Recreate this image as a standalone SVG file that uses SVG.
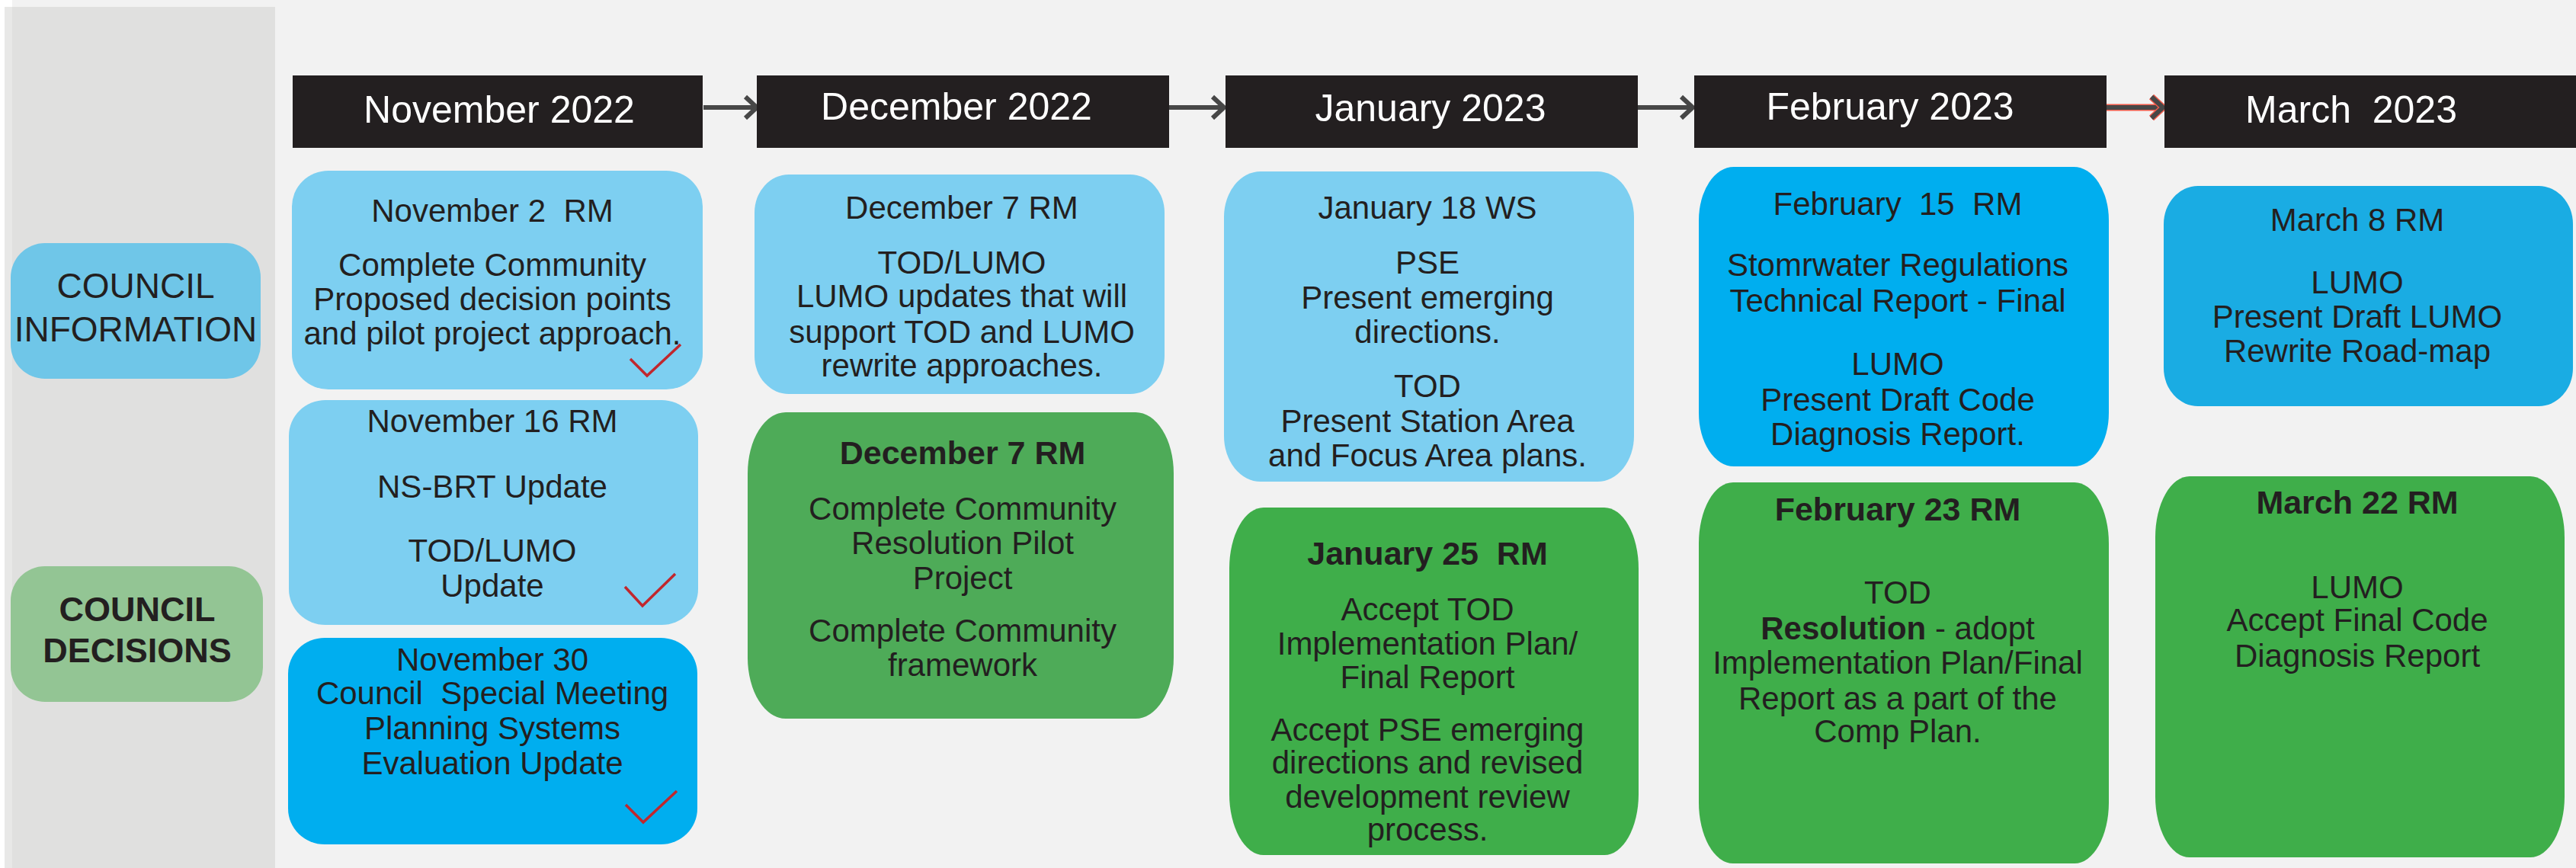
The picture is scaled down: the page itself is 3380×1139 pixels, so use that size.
<svg xmlns="http://www.w3.org/2000/svg" width="3380" height="1139" viewBox="0 0 3380 1139">
<style>
text{font-family:"Liberation Sans",Arial,sans-serif;fill:#231f20;text-anchor:middle;white-space:pre}
.b{font-size:42px}
.t{font-size:43px;font-weight:bold}
.h{font-size:50px;fill:#ffffff}
.hdr{fill:#231f20}
.lb{fill:#7dcff1}
.bb{fill:#00aeef}
.gr{fill:#3fae4a}
.chk{fill:none;stroke:#c1272d;stroke-width:3.5;stroke-linejoin:miter}
.arr{fill:none;stroke:#474747;stroke-width:6}
</style>
<defs>
<marker id="chev" viewBox="0 0 20 32" refX="17" refY="16" markerWidth="20" markerHeight="32" markerUnits="userSpaceOnUse" orient="auto" overflow="visible">
<path d="M2,2 L17,16 L2,30" fill="none" stroke="#474747" stroke-width="6"/>
</marker>
<marker id="chevr" viewBox="0 0 20 32" refX="17" refY="16" markerWidth="20" markerHeight="32" markerUnits="userSpaceOnUse" orient="auto" overflow="visible">
<path d="M2,2 L17,16 L2,30" fill="none" stroke="#f15a4a" stroke-width="9"/>
<path d="M2,2 L17,16 L2,30" fill="none" stroke="#474747" stroke-width="6"/>
</marker>
</defs>
<rect x="0" y="0" width="3380" height="1139" fill="#f2f2f2"/>
<rect x="0" y="0" width="16" height="9" fill="#ffffff"/>
<rect x="0" y="0" width="6" height="1139" fill="#ffffff"/>
<rect x="6" y="9" width="10" height="1130" fill="#e8e8e7"/>
<rect x="16" y="9" width="345" height="1130" fill="#e0e0df"/>

<g id="council-information">
<rect x="14" y="319" width="328" height="178" rx="45" ry="45" fill="#6fc6e8"/>
<text x="178" y="391" style="font-size:46px">COUNCIL</text>
<text x="178" y="448" style="font-size:46px">INFORMATION</text>
</g>
<g id="council-decisions">
<rect x="14" y="743" width="331" height="178" rx="45" ry="45" fill="#93c594"/>
<text x="180" y="815" style="font-size:45px;font-weight:bold">COUNCIL</text>
<text x="180" y="869" style="font-size:45px;font-weight:bold">DECISIONS</text>
</g>

<g id="connectors">
<line class="arr" x1="923" y1="141" x2="993" y2="141" marker-end="url(#chev)"/>
<line class="arr" x1="1534" y1="141" x2="1606" y2="141" marker-end="url(#chev)"/>
<line class="arr" x1="2149" y1="141" x2="2221" y2="141" marker-end="url(#chev)"/>
<line x1="2764" y1="141" x2="2836" y2="141" stroke="#f15a4a" stroke-width="9"/>
<line class="arr" x1="2764" y1="141" x2="2838" y2="141" marker-end="url(#chevr)"/>
</g>

<g id="hdr-nov"><rect class="hdr" x="384" y="99" width="538" height="95"/><text class="h" x="655" y="161">November 2022</text></g>
<g id="hdr-dec"><rect class="hdr" x="993" y="99" width="541" height="95"/><text class="h" x="1255" y="157">December 2022</text></g>
<g id="hdr-jan"><rect class="hdr" x="1608" y="99" width="541" height="95"/><text class="h" x="1877" y="159">January 2023</text></g>
<g id="hdr-feb"><rect class="hdr" x="2223" y="99" width="541" height="95"/><text class="h" x="2480" y="157">February 2023</text></g>
<g id="hdr-mar"><rect class="hdr" x="2840" y="99" width="540" height="95"/><text class="h" x="3085" y="161">March  2023</text></g>

<g id="nov2">
<rect class="lb" x="383" y="224" width="539" height="287" rx="48" ry="47"/>
<text class="b" x="646" y="291">November 2  RM</text>
<text class="b" x="646" y="362">Complete Community</text>
<text class="b" x="646" y="407">Proposed decision points</text>
<text class="b" x="646" y="452">and pilot project approach.</text>
<polyline class="chk" points="827,471 849,493 893,452"/>
</g>
<g id="nov16">
<rect class="lb" x="379" y="525" width="537" height="295" rx="48" ry="47"/>
<text class="b" x="646" y="567">November 16 RM</text>
<text class="b" x="646" y="653">NS-BRT Update</text>
<text class="b" x="646" y="737">TOD/LUMO</text>
<text class="b" x="646" y="783">Update</text>
<polyline class="chk" points="820,770 843,795 886,753"/>
</g>
<g id="nov30">
<rect class="bb" x="378" y="837" width="537" height="271" rx="48" ry="47"/>
<text class="b" x="646" y="880">November 30</text>
<text class="b" x="646" y="924">Council  Special Meeting</text>
<text class="b" x="646" y="970">Planning Systems</text>
<text class="b" x="646" y="1016">Evaluation Update</text>
<polyline class="chk" points="821,1056 844,1079 888,1038"/>
</g>

<g id="dec7-info">
<rect class="lb" x="990" y="229" width="538" height="288" rx="45" ry="50"/>
<text class="b" x="1262" y="287">December 7 RM</text>
<text class="b" x="1262" y="359">TOD/LUMO</text>
<text class="b" x="1262" y="403">LUMO updates that will</text>
<text class="b" x="1262" y="450">support TOD and LUMO</text>
<text class="b" x="1262" y="494">rewrite approaches.</text>
</g>
<g id="dec7-decision">
<rect x="981" y="541" width="559" height="402" rx="50" ry="80" fill="#4eab58"/>
<text class="t" x="1263" y="609">December 7 RM</text>
<text class="b" x="1263" y="682">Complete Community</text>
<text class="b" x="1263" y="727">Resolution Pilot</text>
<text class="b" x="1263" y="773">Project</text>
<text class="b" x="1263" y="842">Complete Community</text>
<text class="b" x="1263" y="887">framework</text>
</g>

<g id="jan18">
<rect class="lb" x="1606" y="225" width="538" height="407" rx="48" ry="60"/>
<text class="b" x="1873" y="287">January 18 WS</text>
<text class="b" x="1873" y="359">PSE</text>
<text class="b" x="1873" y="405">Present emerging</text>
<text class="b" x="1873" y="450">directions.</text>
<text class="b" x="1873" y="521">TOD</text>
<text class="b" x="1873" y="567">Present Station Area</text>
<text class="b" x="1873" y="612">and Focus Area plans.</text>
</g>
<g id="jan25">
<rect class="gr" x="1613" y="666" width="537" height="456" rx="45" ry="80"/>
<text class="t" x="1873" y="741">January 25  RM</text>
<text class="b" x="1873" y="814">Accept TOD</text>
<text class="b" x="1873" y="859">Implementation Plan/</text>
<text class="b" x="1873" y="903">Final Report</text>
<text class="b" x="1873" y="972">Accept PSE emerging</text>
<text class="b" x="1873" y="1015">directions and revised</text>
<text class="b" x="1873" y="1060">development review</text>
<text class="b" x="1873" y="1103">process.</text>
</g>

<g id="feb15">
<rect class="bb" x="2229" y="219" width="538" height="393" rx="46" ry="70"/>
<text class="b" x="2490" y="282">February  15  RM</text>
<text class="b" x="2490" y="362">Stomrwater Regulations</text>
<text class="b" x="2490" y="409">Technical Report - Final</text>
<text class="b" x="2490" y="492">LUMO</text>
<text class="b" x="2490" y="539">Present Draft Code</text>
<text class="b" x="2490" y="584">Diagnosis Report.</text>
</g>
<g id="feb23">
<rect class="gr" x="2229" y="633" width="538" height="500" rx="45" ry="80"/>
<text class="t" x="2490" y="683">February 23 RM</text>
<text class="b" x="2490" y="792">TOD</text>
<text class="b" x="2490" y="839"><tspan font-weight="bold">Resolution</tspan> - adopt</text>
<text class="b" x="2490" y="884">Implementation Plan/Final</text>
<text class="b" x="2490" y="931">Report as a part of the</text>
<text class="b" x="2490" y="974">Comp Plan.</text>
</g>

<g id="mar8">
<rect x="2839" y="244" width="537" height="289" rx="45" ry="50" fill="#1aace3"/>
<text class="b" x="3093" y="303">March 8 RM</text>
<text class="b" x="3093" y="385">LUMO</text>
<text class="b" x="3093" y="430">Present Draft LUMO</text>
<text class="b" x="3093" y="475">Rewrite Road-map</text>
</g>
<g id="mar22">
<rect class="gr" x="2828" y="625" width="537" height="500" rx="45" ry="80"/>
<text class="t" x="3093" y="674">March 22 RM</text>
<text class="b" x="3093" y="785">LUMO</text>
<text class="b" x="3093" y="828">Accept Final Code</text>
<text class="b" x="3093" y="875">Diagnosis Report</text>
</g>
</svg>
